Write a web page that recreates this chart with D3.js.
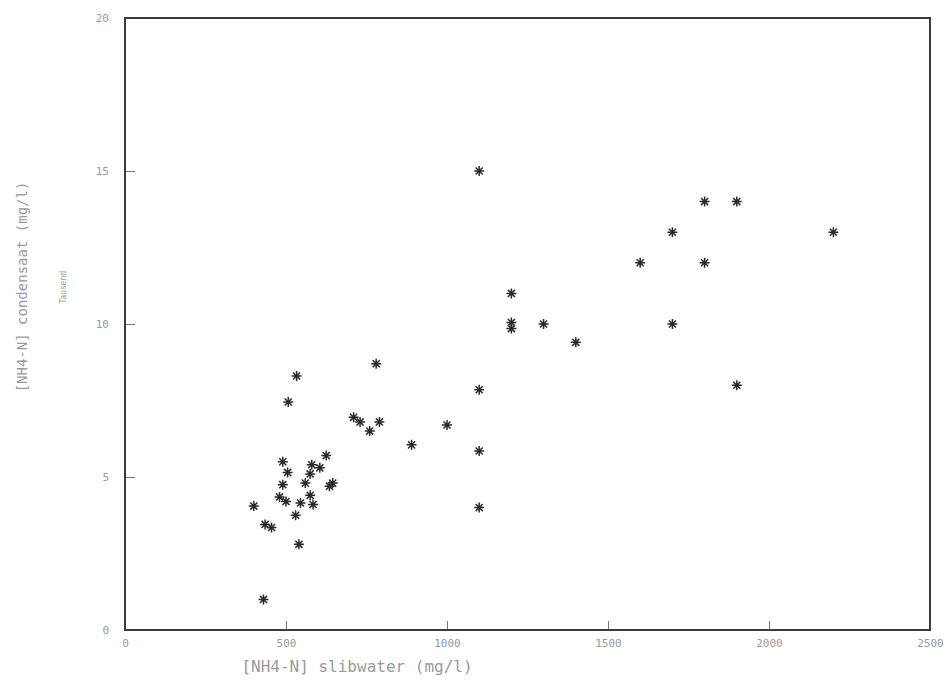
<!DOCTYPE html>
<html>
<head>
<meta charset="utf-8">
<script src="https://cdn.jsdelivr.net/npm/d3@7"></script>
<style>
  html, body { margin: 0; padding: 0; background: #fff; }
  svg { display: block; }
</style>
</head>
<body>
<script>
// slibwater (mg/l)
const xValues = [400, 430, 435, 455, 480, 490, 505, 490, 500, 530, 540, 545, 560, 575, 580, 605, 625, 575, 584, 645, 635, 533, 507,
                 780, 710, 730, 760, 790, 1000, 890, 1100, 1100, 1100, 1100, 1200, 1200, 1200, 1300, 1400, 1600, 1700, 1700, 1800, 1800, 1900, 1900, 2200];
// condensaat (thousand mg/l)
const yValues = [4.05, 1.0, 3.45, 3.35, 4.35, 5.5, 5.15, 4.75, 4.2, 3.75, 2.8, 4.15, 4.8, 5.1, 5.4, 5.3, 5.7, 4.4, 4.1, 4.8, 4.7, 8.3, 7.45,
                 8.7, 6.95, 6.8, 6.5, 6.8, 6.7, 6.05, 5.85, 4.0, 7.85, 15.0, 11.0, 10.05, 9.85, 10.0, 9.4, 12.0, 13.0, 10.0, 14.0, 12.0, 14.0, 8.0, 13.0];
const xTicks = [0, 500, 1000, 1500, 2000, 2500];
const yTicks = [0, 5, 10, 15, 20];
const xTitle = "[NH4-N] slibwater (mg/l)";
const yTitle = "[NH4-N] condensaat (mg/l)";
const yUnit = "Tausend";

const W = 951, H = 683;
const m = {left: 125, right: 21, top: 18, bottom: 53};
const svg = d3.select("body").append("svg").attr("width", W).attr("height", H);

const x = d3.scaleLinear().domain([0, 2500]).range([m.left, W - m.right]);
const y = d3.scaleLinear().domain([0, 20]).range([H - m.bottom, m.top]);

const defs = svg.append("defs");
defs.append("filter").attr("id", "soft")
  .append("feGaussianBlur").attr("stdDeviation", 0.45);

const textColor = "#9a9a9a";

// Axes (inward ticks)
const gx = svg.append("g").attr("transform", `translate(0,${H - m.bottom})`)
  .call(d3.axisBottom(x).tickValues(xTicks).tickSize(-9).tickPadding(9).tickFormat(d3.format("d")));
const gy = svg.append("g").attr("transform", `translate(${m.left},0)`)
  .call(d3.axisLeft(y).tickValues(yTicks).tickSize(-10).tickPadding(16).tickFormat(d3.format("d")));
[gx, gy].forEach(g => {
  g.select(".domain").remove();
  g.selectAll(".tick line").attr("stroke", "#777").attr("stroke-width", 1);
  g.selectAll(".tick text").attr("fill", textColor)
    .attr("font-family", "'DejaVu Sans Mono', monospace").attr("font-size", 11);
});
gx.selectAll(".tick").filter(d => d === 0 || d === 2500).select("line").remove();
gy.selectAll(".tick").filter(d => d === 0 || d === 20).select("line").remove();

// Frame
svg.append("rect")
  .attr("x", x(0)).attr("y", y(20))
  .attr("width", x(2500) - x(0)).attr("height", y(0) - y(20))
  .attr("fill", "none").attr("stroke", "#3c3c3c").attr("stroke-width", 2);

// Titles
svg.append("text").attr("x", 357).attr("y", 672)
  .attr("text-anchor", "middle").attr("fill", textColor)
  .attr("font-family", "'DejaVu Sans Mono', monospace").attr("font-size", 16)
  .text(xTitle);
svg.append("text").attr("transform", "translate(27,287) rotate(-90)")
  .attr("text-anchor", "middle").attr("fill", textColor)
  .attr("font-family", "'DejaVu Sans Mono', monospace").attr("font-size", 14)
  .text(yTitle);
svg.append("text").attr("transform", "translate(66,287) rotate(-90)")
  .attr("text-anchor", "middle").attr("fill", textColor)
  .attr("font-family", "'DejaVu Sans', sans-serif").attr("font-size", 8)
  .text(yUnit);

// Star marker (8 spokes)
const star = {
  draw(ctx, size) {
    const r = Math.sqrt(size) / 2;
    const d = r * Math.SQRT1_2;
    ctx.moveTo(-r, 0); ctx.lineTo(r, 0);
    ctx.moveTo(0, -r); ctx.lineTo(0, r);
    ctx.moveTo(-d, -d); ctx.lineTo(d, d);
    ctx.moveTo(-d, d); ctx.lineTo(d, -d);
  }
};
const pts = xValues.map((v, i) => [v, yValues[i]]);
svg.append("g").attr("filter", "url(#soft)")
  .selectAll("path").data(pts).join("path")
  .attr("transform", d => `translate(${x(d[0])},${y(d[1])})`)
  .attr("d", d3.symbol().type(star).size(100))
  .attr("fill", "none").attr("stroke", "#2a2a2a").attr("stroke-width", 1.5);
</script>
</body>
</html>
